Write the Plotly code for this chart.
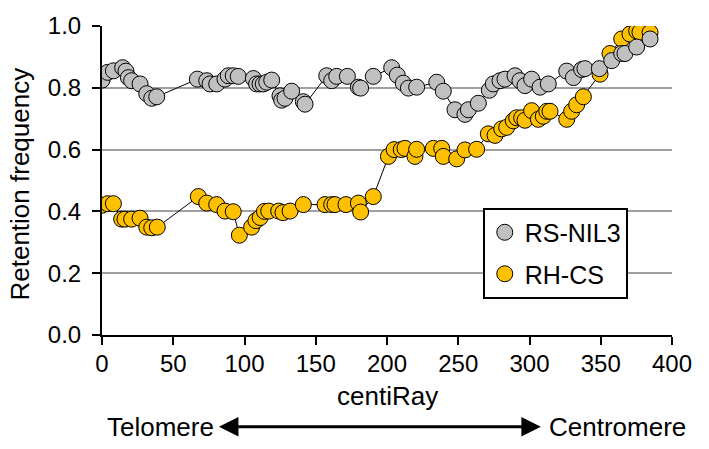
import plotly.graph_objects as go

# RS-NIL3 (grey)
nil_x = [0, 4, 8, 14.5, 16.8, 18.5, 20.8, 26.7, 31.4, 34.9, 38.4, 66.9, 73.5, 75.8, 80.5, 86.3, 88.6,
         92.1, 95.6, 106.2, 108.5, 110.9, 113.2, 115.6, 119.1, 124.9, 126.1, 128.4, 133.1, 141.3, 142.5,
         157.7, 161.2, 164.7, 172.2, 179.9, 181.5, 190.4, 203.3, 207.2, 211.4, 215, 220.8, 234.9, 239.5,
         247.7, 254.7, 257.1, 264.1, 271.8, 274.6, 279.3, 282.8, 289.8, 293.3, 296.8, 301.5, 307.4, 313.2,
         326.1, 330.8, 336.6, 338.9, 349, 357.7, 364.7, 367, 375.2, 384.6]
nil_y = [0.825, 0.85, 0.855, 0.865, 0.854, 0.833, 0.823, 0.8125, 0.781, 0.766, 0.771, 0.828, 0.823, 0.8125,
         0.8125, 0.828, 0.839, 0.839, 0.837, 0.830, 0.8125, 0.8125, 0.8125, 0.818, 0.825, 0.774, 0.760,
         0.766, 0.789, 0.755, 0.747, 0.839, 0.823, 0.837, 0.837, 0.802, 0.799, 0.837, 0.865, 0.841, 0.815,
         0.799, 0.802, 0.818, 0.789, 0.729, 0.714, 0.729, 0.75, 0.792, 0.8125, 0.823, 0.828, 0.839, 0.823,
         0.807, 0.828, 0.802, 0.8125, 0.854, 0.833, 0.859, 0.862, 0.862, 0.888, 0.911, 0.911, 0.932, 0.958]

# RH-CS (yellow)
rh_x = [0, 4, 8, 13.8, 16.1, 20.8, 26.7, 31.4, 34.9, 38.8, 67.6, 73.5, 80.5, 86.3, 92.1, 96.4, 105, 108,
        111, 114, 117, 124, 127, 132, 141.3, 156.5, 161.2, 163.5, 171.2, 179.9, 181.5, 190.4, 201, 205,
        210, 212.6, 219.6, 220.8, 232.5, 238.4, 239.5, 248.9, 254.7, 262.9, 271.1, 275.8, 280.5, 284,
        288.6, 291, 294.5, 296.8, 301.5, 306.2, 309.7, 312.1, 314.4, 326.1, 329.6, 333.1, 337.8, 349.5,
        356.5, 364.7, 370.5, 375.2, 377.5, 384.6]
rh_y = [0.42, 0.425, 0.425, 0.375, 0.375, 0.375, 0.378, 0.349, 0.347, 0.349, 0.448, 0.427, 0.422, 0.401,
        0.399, 0.323, 0.349, 0.37, 0.38, 0.40, 0.401, 0.401, 0.396, 0.401, 0.422, 0.422, 0.422, 0.422,
        0.422, 0.427, 0.398, 0.448, 0.578, 0.60, 0.60, 0.604, 0.578, 0.601, 0.604, 0.604, 0.578, 0.570,
        0.599, 0.601, 0.651, 0.646, 0.667, 0.672, 0.693, 0.703, 0.703, 0.695, 0.726, 0.698, 0.708, 0.724,
        0.724, 0.698, 0.724, 0.745, 0.771, 0.844, 0.911, 0.958, 0.974, 0.984, 0.98, 0.979]

y_ticks = [0.0, 0.2, 0.4, 0.6, 0.8, 1.0]
x_ticks = [0, 50, 100, 150, 200, 250, 300, 350, 400]

FONT = "Liberation Sans, Arial, sans-serif"
FS = 24
GREY = "#C0C0C0"
YELLOW = "#FFC000"

fig = go.Figure()
fig.add_trace(go.Scatter(
    x=rh_x, y=rh_y, mode="lines+markers", name="RH-CS", showlegend=False,
    line=dict(color="black", width=1),
    marker=dict(size=16, color=YELLOW, line=dict(color="black", width=1)),
))
fig.add_trace(go.Scatter(
    x=nil_x, y=nil_y, mode="lines+markers", name="RS-NIL3", showlegend=False,
    line=dict(color="black", width=1),
    marker=dict(size=16, color=GREY, line=dict(color="black", width=1)),
))
# legend entries (marker only)
fig.add_trace(go.Scatter(x=[None], y=[None], mode="markers", name="RS-NIL3", legendgroup="a",
                         marker=dict(size=16, color=GREY, line=dict(color="black", width=1))))
fig.add_trace(go.Scatter(x=[None], y=[None], mode="markers", name="RH-CS", legendgroup="b",
                         marker=dict(size=16, color=YELLOW, line=dict(color="black", width=1))))

fig.update_layout(
    width=709, height=449,
    margin=dict(l=102, r=37, t=15, b=114),
    paper_bgcolor="white", plot_bgcolor="white",
    font=dict(family=FONT, size=FS, color="black"),
    showlegend=True,
    legend=dict(x=0.668, y=0.4125, xanchor="left", yanchor="top",
                bordercolor="black", borderwidth=2, bgcolor="white",
                font=dict(size=25), tracegroupgap=6, traceorder="grouped"),
)
fig.update_xaxes(range=[0, 400], tickvals=x_ticks, showgrid=False, zeroline=False,
                 showline=True, linecolor="black", linewidth=2,
                 ticks="outside", ticklen=8, tickwidth=2, tickcolor="black",
                 ticklabelstandoff=-2)
fig.update_yaxes(range=[0, 1.0], tickvals=y_ticks, tickformat=".1f",
                 showgrid=True, gridcolor="#A0A0A0", gridwidth=2, zeroline=False,
                 showline=True, linecolor="black", linewidth=2,
                 ticks="outside", ticklen=8, tickwidth=2, tickcolor="black",
                 ticklabelstandoff=6)

fig.add_annotation(text="Retention frequency", xref="paper", yref="paper", x=-0.144, y=0.49,
                   textangle=-90, xanchor="center", yanchor="middle", showarrow=False,
                   font=dict(size=26))
fig.add_annotation(text="centiRay", xref="x", yref="paper", x=200, y=-0.197,
                   yanchor="middle", showarrow=False, font=dict(size=26))
fig.add_annotation(text="Telomere", xref="x", yref="paper", x=80, y=-0.297,
                   xanchor="right", yanchor="middle", showarrow=False, font=dict(size=26))
fig.add_annotation(text="Centromere", xref="x", yref="paper", x=312, y=-0.297,
                   xanchor="left", yanchor="middle", showarrow=False, font=dict(size=26))
fig.add_annotation(text="", xref="x", yref="paper", x=308, y=-0.297,
                   axref="x", ayref="pixel", ax=81, ay=0,
                   showarrow=True, arrowside="end+start", arrowhead=2, arrowsize=1.3,
                   arrowwidth=3, arrowcolor="black", standoff=0, startstandoff=0)

fig.write_html("out.html", config={"displayModeBar": False},
               post_script="document.body.style.margin='0';document.body.style.overflow='hidden';")
